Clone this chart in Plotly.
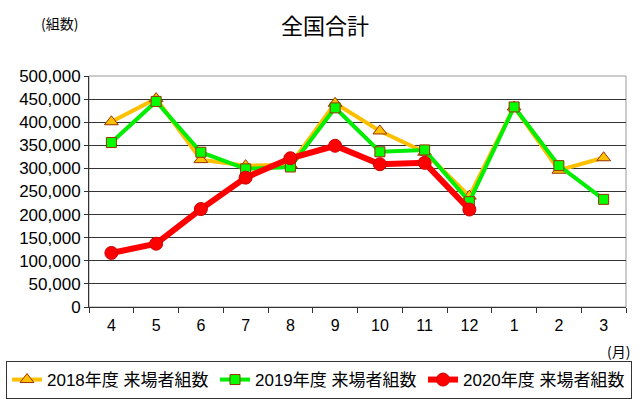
import plotly.graph_objects as go

months = ["4", "5", "6", "7", "8", "9", "10", "11", "12", "1", "2", "3"]
fy2018 = [401000, 451000, 319000, 306000, 308000, 441000, 381000, 335000, 240000, 433000, 296000, 323000]
fy2019 = [356000, 445000, 335000, 299000, 303000, 431000, 336000, 340000, 228000, 433000, 306000, 233000]
fy2020 = [117000, 137000, 212000, 280000, 322000, 349000, 309000, 312000, 211000]

yticks = [0, 50000, 100000, 150000, 200000, 250000, 300000, 350000, 400000, 450000, 500000]
ytext = [f"{v:,}" for v in yticks]

num_font = "Liberation Sans, Arial, Noto Sans CJK JP"
cjk_font = "Noto Sans CJK JP, Liberation Sans"

W, H = 640, 399
ML, MR, MT, MB = 89, 14, 76, 92
PW, PH = W - ML - MR, H - MT - MB

fig = go.Figure()
fig.add_trace(go.Scatter(
    x=months, y=fy2018, name="2018年度 来場者組数", mode="lines+markers",
    line=dict(color="#FFC000", width=4),
    marker=dict(symbol="triangle-up", size=12, color="#FFC000",
                line=dict(color="#993300", width=1)),
))
fig.add_trace(go.Scatter(
    x=months, y=fy2019, name="2019年度 来場者組数", mode="lines+markers",
    line=dict(color="#00EE00", width=4),
    marker=dict(symbol="square", size=10, color="#00FF00",
                line=dict(color="#993300", width=1)),
))
fig.add_trace(go.Scatter(
    x=months[:len(fy2020)], y=fy2020, name="2020年度 来場者組数", mode="lines+markers",
    line=dict(color="#FF0000", width=6),
    marker=dict(symbol="circle", size=13, color="#FF0000",
                line=dict(color="#CC0000", width=1)),
))


def px_x(p):
    return (p - ML) / PW


def px_y(p):
    return (H - MB - p) / PH


fig.update_layout(
    width=W, height=H,
    margin=dict(l=ML, r=MR, t=MT, b=MB, autoexpand=False),
    paper_bgcolor="white", plot_bgcolor="white",
    font=dict(family=num_font, size=16, color="black"),
    title=dict(text="全国合計", x=325 / W, xanchor="center", y=1 - 26 / H, yanchor="middle",
               font=dict(family=cjk_font, size=22, color="black")),
    showlegend=True,
    legend=dict(orientation="h", x=px_x(6), xanchor="left", y=px_y(361), yanchor="top",
                bordercolor="#333333", borderwidth=1, bgcolor="white",
                font=dict(family=num_font, size=17, color="black"),
                entrywidth=163, entrywidthmode="pixels",
                itemsizing="trace", tracegroupgap=0),
    xaxis=dict(type="category", categoryorder="array", categoryarray=months,
               range=[-0.5, 11.5], showgrid=False,
               showline=True, linecolor="#333333", linewidth=1,
               ticks="outside", tickson="boundaries", ticklen=5, tickcolor="#333333",
               tickfont=dict(family=num_font, size=16), ticklabelstandoff=4),
    yaxis=dict(range=[0, 500000], tickvals=yticks, ticktext=ytext,
               showgrid=True, gridcolor="#333333", gridwidth=1,
               showline=True, linecolor="#333333", linewidth=1,
               ticks="outside", ticklen=4, tickcolor="#333333",
               tickfont=dict(family=num_font, size=17), zeroline=False),
    shapes=[dict(type="rect", xref="paper", yref="paper", x0=0, x1=1, y0=0, y1=1,
                 line=dict(color="#999999", width=1), layer="below")],
    annotations=[
        dict(text="(組数)", x=px_x(59), y=px_y(23), xref="paper", yref="paper",
             xanchor="center", yanchor="middle", showarrow=False,
             font=dict(family=cjk_font, size=14)),
        dict(text="(月)", x=px_x(618), y=px_y(351), xref="paper", yref="paper",
             xanchor="center", yanchor="middle", showarrow=False,
             font=dict(family=cjk_font, size=14)),
    ],
)

fig.write_html("out.html", config={"displayModeBar": False},
               post_script="document.body.style.margin='0';document.body.style.padding='0';")
